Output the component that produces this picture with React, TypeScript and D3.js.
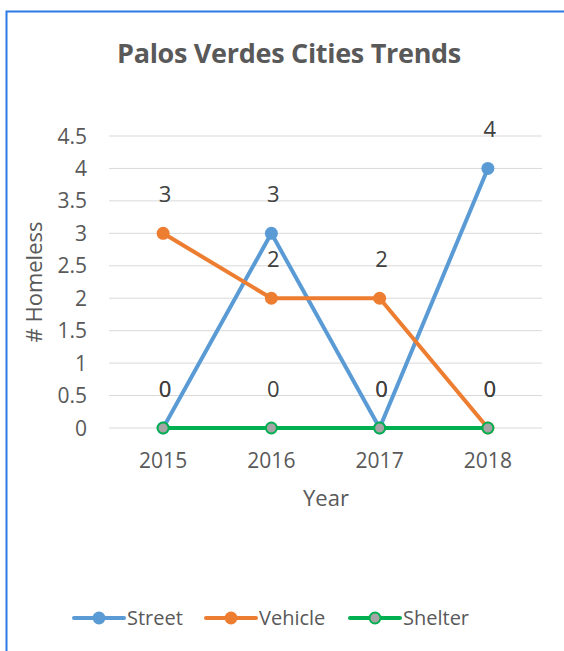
import React, { useEffect, useRef } from 'react';
import * as d3 from 'd3';

const years = ['2015', '2016', '2017', '2018'];
const street = [0, 3, 0, 4];
const vehicle = [3, 2, 2, 0];
const shelter = [0, 0, 0, 0];
const yTicks = [0, 0.5, 1, 1.5, 2, 2.5, 3, 3.5, 4, 4.5];

const series = [
  { name: 'Street', values: street, color: '#5b9bd5', fill: '#5b9bd5' },
  { name: 'Vehicle', values: vehicle, color: '#ed7d31', fill: '#ed7d31' },
  { name: 'Shelter', values: shelter, color: '#00b050', fill: '#a5a5a5' },
];

const FONT = '"Open Sans", "Noto Sans", sans-serif';

const App = () => {
  const svgRef = useRef<SVGSVGElement>(null);

  useEffect(() => {
    const svg = d3.select(svgRef.current);
    svg.selectAll('*').remove();

    // chart frame (blue border, left and top visible)
    svg.append('rect')
      .attr('x', 6.5).attr('y', 11.5)
      .attr('width', 600).attr('height', 700)
      .attr('fill', 'white')
      .attr('stroke', '#2b7be5')
      .attr('stroke-width', 2);

    const x = d3.scaleBand().domain(years).range([109, 542]);
    const y = d3.scaleLinear().domain([0, 4.5]).range([428, 136]);
    const cx = (i: number) => (x(years[i]) as number) + x.bandwidth() / 2;

    svg.append('text')
      .attr('x', 289).attr('y', 63)
      .attr('text-anchor', 'middle')
      .attr('font-family', FONT)
      .attr('font-weight', 'bold')
      .attr('font-size', 27)
      .attr('letter-spacing', -0.3)
      .attr('fill', '#595959')
      .text('Palos Verdes Cities Trends');

    // gridlines
    svg.append('g')
      .selectAll('line')
      .data(yTicks)
      .join('line')
      .attr('x1', 109).attr('x2', 542)
      .attr('y1', (d) => y(d)).attr('y2', (d) => y(d))
      .attr('stroke', '#d9d9d9')
      .attr('stroke-width', 1);

    // y tick labels
    svg.append('g')
      .selectAll('text')
      .data(yTicks)
      .join('text')
      .attr('x', 87)
      .attr('y', (d) => y(d))
      .attr('dy', '0.36em')
      .attr('text-anchor', 'end')
      .attr('font-family', FONT)
      .attr('font-size', 21)
      .attr('fill', '#595959')
      .text((d) => String(d));

    // x tick labels
    svg.append('g')
      .selectAll('text')
      .data(years)
      .join('text')
      .attr('x', (d, i) => cx(i))
      .attr('y', 468)
      .attr('text-anchor', 'middle')
      .attr('font-family', FONT)
      .attr('font-size', 21)
      .attr('fill', '#595959')
      .text((d) => d);

    svg.append('text')
      .attr('x', 326).attr('y', 506)
      .attr('text-anchor', 'middle')
      .attr('font-family', FONT)
      .attr('font-size', 22)
      .attr('fill', '#595959')
      .text('Year');

    svg.append('text')
      .attr('transform', 'translate(42,282) rotate(-90)')
      .attr('text-anchor', 'middle')
      .attr('font-family', FONT)
      .attr('font-size', 22)
      .attr('fill', '#595959')
      .text('# Homeless');

    const line = d3.line<number>()
      .x((d, i) => cx(i))
      .y((d) => y(d));

    series.forEach((s) => {
      const g = svg.append('g');
      g.append('path')
        .datum(s.values)
        .attr('fill', 'none')
        .attr('stroke', s.color)
        .attr('stroke-width', 4)
        .attr('stroke-linejoin', 'round')
        .attr('d', line);
      g.selectAll('circle')
        .data(s.values)
        .join('circle')
        .attr('cx', (d, i) => cx(i))
        .attr('cy', (d) => y(d))
        .attr('r', s.name === 'Shelter' ? 5.5 : 6.5)
        .attr('fill', s.fill)
        .attr('stroke', s.name === 'Shelter' ? s.color : 'none')
        .attr('stroke-width', 2);
    });

    // data labels
    series.forEach((s) => {
      svg.append('g')
        .selectAll('text')
        .data(s.values)
        .join('text')
        .attr('x', (d, i) => cx(i) + 2)
        .attr('y', (d) => y(d) - 31)
        .attr('text-anchor', 'middle')
        .attr('font-family', FONT)
        .attr('font-size', 22)
        .attr('fill', '#404040')
        .text((d) => String(d));
    });

    // legend
    const legend = [
      { x: 74, tx: 127 },
      { x: 206, tx: 259 },
      { x: 350, tx: 403 },
    ];
    series.forEach((s, i) => {
      const l = legend[i];
      const g = svg.append('g');
      g.append('line')
        .attr('x1', l.x).attr('x2', l.x + 50)
        .attr('y1', 618).attr('y2', 618)
        .attr('stroke', s.color)
        .attr('stroke-width', 4)
        .attr('stroke-linecap', 'round');
      g.append('circle')
        .attr('cx', l.x + 25).attr('cy', 618)
        .attr('r', s.name === 'Shelter' ? 5.5 : 6.5)
        .attr('fill', s.fill)
        .attr('stroke', s.name === 'Shelter' ? s.color : 'none')
        .attr('stroke-width', 2);
      g.append('text')
        .attr('x', l.tx).attr('y', 618)
        .attr('dy', '0.36em')
        .attr('font-family', FONT)
        .attr('font-size', 20)
        .attr('fill', '#595959')
        .text(s.name);
    });
  }, []);

  return (
    <svg
      ref={svgRef}
      width={564}
      height={651}
      style={{ position: 'absolute', left: 0, top: 0 }}
    />
  );
};

export default App;
